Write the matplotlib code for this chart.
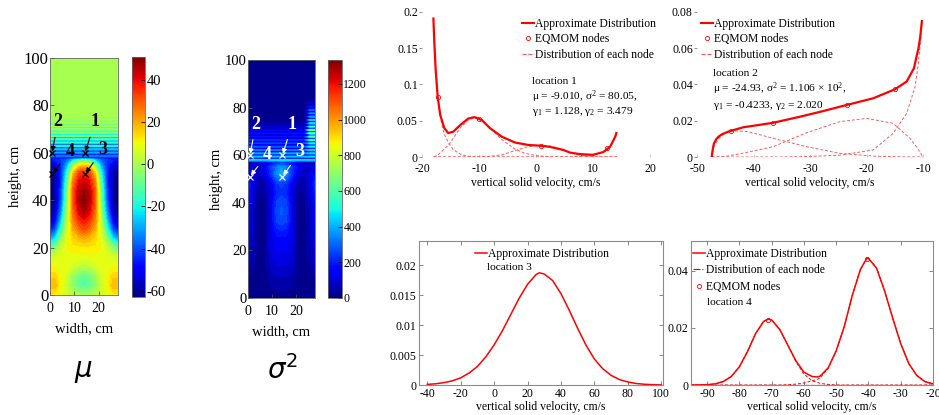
import numpy as np
import matplotlib
matplotlib.use('Agg')
import matplotlib.pyplot as plt
from matplotlib.lines import Line2D
from matplotlib.cm import ScalarMappable
from matplotlib.colors import Normalize

plt.rcParams['font.family'] = ['Liberation Serif', 'DejaVu Sans']
plt.rcParams['mathtext.fontset'] = 'custom'
plt.rcParams['mathtext.rm'] = 'Liberation Serif'
plt.rcParams['mathtext.it'] = 'Liberation Serif:italic'
plt.rcParams['mathtext.bf'] = 'Liberation Serif:bold'
plt.rcParams['axes.unicode_minus'] = False

W, H = 939, 415

# ---------------- bed fields (half width, the bed is symmetric about x = 14 cm)
half_x = [0, 2, 4.5, 7, 9.5, 12, 14]
base_h = [0, 4, 8, 12, 16, 20, 24, 28, 32, 36, 40, 44, 48, 52, 55, 57]
mu_half = [
    [12, 12, 8, 5, 2, 0, 0],
    [18, 18, 10, 4, -5, -10, -12],
    [15, 15, 10, 5, -3, -8, -10],
    [10, 10, 10, 8, 5, 3, 2],
    [5, 6, 8, 9, 9, 9, 9],
    [-10, -5, 4, 10, 12, 12, 12],
    [-30, -25, -6, 8, 15, 18, 20],
    [-48, -42, -18, 5, 20, 28, 32],
    [-56, -52, -28, 2, 25, 36, 40],
    [-60, -58, -35, -2, 28, 43, 47],
    [-62, -60, -40, -5, 30, 46, 50],
    [-62, -60, -42, -8, 30, 45, 48],
    [-62, -60, -45, -12, 25, 40, 42],
    [-60, -58, -45, -20, 15, 32, 35],
    [-56, -54, -45, -30, -5, 10, 15],
    [-48, -46, -42, -38, -25, -15, -12],
]
sig_half = [
    [10, 10, 10, 10, 15, 20, 20],
    [15, 10, 10, 15, 30, 40, 40],
    [30, 15, 10, 20, 50, 60, 60],
    [60, 30, 10, 25, 70, 90, 90],
    [90, 45, 15, 30, 90, 120, 120],
    [110, 55, 20, 30, 100, 140, 140],
    [120, 60, 20, 30, 110, 150, 150],
    [130, 65, 20, 30, 120, 190, 200],
    [140, 70, 20, 30, 130, 240, 260],
    [150, 75, 20, 30, 130, 260, 280],
    [170, 85, 25, 30, 120, 250, 270],
    [200, 100, 30, 35, 110, 210, 230],
    [220, 120, 40, 50, 130, 230, 250],
    [180, 120, 70, 110, 220, 350, 400],
    [120, 100, 90, 140, 240, 330, 370],
    [80, 80, 80, 100, 150, 200, 230],
]
# horizontal stripes above the jet region
stripe_h = np.arange(58, 82, 0.7)
mu_stripe = [-50, -35, -52, -30, -50, -25, -48, -20, -45, -15,
             -42, -10, -38, -5, -32, -2, -25, 0, -20, 1,
             -15, 1, -10, 1, -5, 1, 1, 1, 1, 1, 1, 1, 1, 1, 1]
sig_stripe_mid = [450, 60, 420, 50, 380, 40, 330, 35, 300, 30,
                  260, 25, 230, 20, 200, 20, 180, 15, 150, 15,
                  100, 10, 60, 10, 30, 10, 10, 10, 10, 10, 10, 10, 10, 10, 10]
sig_stripe_right = [450, 80, 450, 70, 450, 60, 450, 60, 500, 60,
                    500, 50, 550, 50, 600, 50, 700, 50, 650, 40,
                    550, 40, 500, 30, 450, 30, 400, 25, 350, 20,
                    300, 20, 200, 15, 100]
top_h = [84, 100]
mu_top = [1, 1]
sig_top = [10, 10]

# probe points 1-4 (width, height)
probe_lbl = ['1', '2', '3', '4']
probe_w = [14.4, 0.8, 14.4, 0.8]
probe_h = [60, 60, 51, 51]
lbl_w = [18.5, 3.3, 21.8, 8.2]
lbl_h = [73, 73, 61.5, 60.5]

# ---------------- location 1
loc1_v = [-18.0, -17.85, -17.6, -17.25, -16.8, -16.1, -15.4, -14.5, -13.3, -11.9, -10.8,
          -9.5, -8.1, -6.0, -3.7, -1.35, 0.7, 2.5, 4.8, 6.0, 7.7, 10.0, 11.8, 13.0, 13.9, 14.1]
loc1_p = [0.191, 0.160, 0.120, 0.083, 0.058, 0.040, 0.033, 0.035, 0.044, 0.053, 0.055,
          0.051, 0.040, 0.028, 0.020, 0.0166, 0.0156, 0.014, 0.0097, 0.006, 0.004, 0.003,
          0.0068, 0.014, 0.028, 0.033]
loc1_nodes = [
    ([-18.0, -17.7, -17.25, -16.7, -16.1, -15.2, -14.5, -13.3, -12.0, -10, 14.2],
     [0.191, 0.134, 0.083, 0.052, 0.031, 0.018, 0.010, 0.004, 0.001, 0, 0]),
    ([-17.9, -17.3, -16.5, -15.2, -14.5, -13.3, -11.9, -10.8, -9.5, -8.1, -6.0, -3.7, -1.9, 0, 2, 4, 14.2],
     [0, 0.002, 0.008, 0.018, 0.026, 0.040, 0.051, 0.054, 0.050, 0.040, 0.024, 0.011, 0.005, 0.002, 0.0005, 0, 0]),
    ([-18, -10, -8, -6, -4, -2, 0, 1, 2.5, 4, 6, 8, 10, 12, 14.2],
     [0, 0, 0.001, 0.003, 0.008, 0.013, 0.016, 0.0163, 0.015, 0.012, 0.006, 0.002, 0.0005, 0, 0]),
    ([-18, 6, 8, 10, 11.8, 13, 13.9, 14.1],
     [0, 0, 0.001, 0.003, 0.007, 0.015, 0.028, 0.033]),
]
loc1_node_v = [-17.25, -10.0, 0.8, 12.4]
loc1_node_p = [0.083, 0.053, 0.0156, 0.0128]

# ---------------- location 2
loc2_v = [-47.4, -47.2, -47.0, -46.6, -46.2, -45.6, -44.2, -41.8, -39, -36.5, -31.8, -27.6,
          -23.5, -18.8, -15.0, -12.9, -12.3, -11.6, -11.1, -10.8, -10.5, -10.2]
loc2_p = [0, 0.0045, 0.0075, 0.0098, 0.0112, 0.0125, 0.0143, 0.0164, 0.0177, 0.0189, 0.0222,
          0.0254, 0.0287, 0.0324, 0.0373, 0.0416, 0.045, 0.049, 0.056, 0.060, 0.066, 0.075]
loc2_nodes = [
    ([-47.4, -47.0, -46.2, -45.0, -43.6, -41, -36.5, -30.6, -24.7, -18.8, -14, -10],
     [0, 0.006, 0.010, 0.0135, 0.0145, 0.0140, 0.0103, 0.0057, 0.002, 0.0005, 0.0001, 0]),
    ([-47.4, -45, -42, -36.5, -30.6, -24.7, -20, -15.3, -12.3, -11, -10],
     [0, 0.0003, 0.002, 0.0057, 0.0134, 0.0195, 0.0213, 0.0186, 0.0103, 0.005, 0]),
    ([-47.4, -35, -30, -24.7, -18.8, -15.3, -12.9, -11.4, -10.8, -10.5, -10.2],
     [0, 0, 0.0003, 0.001, 0.0039, 0.013, 0.024, 0.0388, 0.052, 0.062, 0.074]),
]
loc2_node_v = [-44.0, -36.5, -23.5, -15.0]
loc2_node_p = [0.0143, 0.0189, 0.0287, 0.0373]

# ---------------- location 3
loc3_v = [-40, -35, -30, -25, -20, -15, -10, -5, 0, 5, 10, 15, 20, 25, 27, 30, 35, 40,
          45, 50, 55, 60, 65, 70, 75, 80, 85, 90, 95, 100]
loc3_p = [0.0001, 0.0002, 0.0004, 0.0007, 0.0012, 0.0020, 0.0031, 0.0047, 0.0067, 0.0091,
          0.0118, 0.0145, 0.0168, 0.0184, 0.0187, 0.0185, 0.0174, 0.0152, 0.0124, 0.0094,
          0.0066, 0.0043, 0.0027, 0.0016, 0.0009, 0.0005, 0.00025, 0.00012, 0.00005, 0.00002]

# ---------------- location 4
loc4_v = [-95, -90, -87.5, -85, -82.5, -80, -77.5, -75, -72.5, -71, -70, -67.5, -65, -62.5,
          -60, -57.5, -56, -55, -52.5, -50, -47.5, -45, -42.5, -40.5, -40, -37.5, -35,
          -32.5, -30, -27.5, -25, -22.5, -20]
loc4_p = [0, 0.0001, 0.0004, 0.0012, 0.0030, 0.0064, 0.0117, 0.0180, 0.0223, 0.0231, 0.0228,
          0.0195, 0.0140, 0.0085, 0.0045, 0.0030, 0.0028, 0.0031, 0.0060, 0.0120, 0.0205,
          0.0315, 0.0405, 0.0445, 0.0444, 0.0410, 0.0330, 0.0235, 0.0145, 0.0075, 0.0033,
          0.0012, 0.0004]
loc4_node1 = [0, 0.0001, 0.0004, 0.0012, 0.0030, 0.0064, 0.0117, 0.0180, 0.0223, 0.0231, 0.0228,
              0.0195, 0.0140, 0.0082, 0.0038, 0.0015, 0.0010, 0.0006, 0.0002, 0, 0,
              0, 0, 0, 0, 0, 0, 0, 0, 0, 0, 0, 0]
loc4_node2 = [0, 0, 0, 0, 0, 0, 0, 0, 0, 0, 0, 0, 0.0001, 0.0003, 0.0007, 0.0015, 0.0019, 0.0025,
              0.0058, 0.0119, 0.0205, 0.0315, 0.0405, 0.0445, 0.0444, 0.0410, 0.0330, 0.0235,
              0.0145, 0.0075, 0.0033, 0.0012, 0.0004]
loc4_node_v = [-71, -40.5]
loc4_node_p = [0.0229, 0.0443]


fig = plt.figure(figsize=(W / 100, H / 100), dpi=100)


def px_axes(x0, y0, x1, y1):
    return fig.add_axes([x0 / W, 1 - y1 / H, (x1 - x0) / W, (y1 - y0) / H])


cols = np.array(half_x + [28 - x for x in half_x[-2::-1]])
rows = np.concatenate([base_h, stripe_h, top_h])
ncol = len(cols)

mu_base = np.array(mu_half, dtype=float)
mu_base = np.hstack([mu_base, mu_base[:, -2::-1]])
mu_grid = np.vstack([mu_base,
                     np.repeat(np.array(mu_stripe, float)[:, None], ncol, axis=1),
                     np.repeat(np.array(mu_top, float)[:, None], ncol, axis=1)])

sig_base = np.array(sig_half, dtype=float)
sig_base = np.hstack([sig_base, sig_base[:, -2::-1]])
sig_str = np.repeat(np.array(sig_stripe_mid, float)[:, None], ncol, axis=1)
sig_str[:, -2:] = np.array(sig_stripe_right, float)[:, None]
sig_grid = np.vstack([sig_base, sig_str,
                      np.repeat(np.array(sig_top, float)[:, None], ncol, axis=1)])


def field_panel(box, cbox, grid, vmin, vmax, cticks, fg, ysize, csize):
    ax = px_axes(*box)
    levels = np.linspace(vmin, vmax, 40)
    ax.contourf(cols, rows, grid, levels=levels, cmap='jet', extend='both')
    ax.set_xlim(0, 28)
    ax.set_ylim(0, 100)
    ax.set_xticks([0, 10, 20])
    ax.set_yticks([0, 20, 40, 60, 80, 100])
    ax.tick_params(direction='in', length=3, width=0.6, color='0.3')
    ax.tick_params(axis='x', labelsize=10, pad=5)
    ax.tick_params(axis='y', labelsize=ysize, pad=1)
    ax.set_xlabel('width, cm', fontsize=10.5, labelpad=5)
    ax.set_ylabel('height, cm', fontsize=10.5, labelpad=1)
    for s in ax.spines.values():
        s.set_linewidth(0.6)
        s.set_color('0.4')
    ax.plot(probe_w, probe_h, 'x', color=fg, ms=4, mew=0.9, clip_on=False, zorder=5)
    for k in range(4):
        ax.annotate(probe_lbl[k], xy=(probe_w[k], probe_h[k]), xytext=(lbl_w[k], lbl_h[k]),
                    fontsize=13, fontweight='bold', color=fg, ha='center', va='center',
                    annotation_clip=False,
                    arrowprops=dict(arrowstyle='-|>', color=fg, lw=0.8, mutation_scale=7,
                                    shrinkA=3, shrinkB=1))
    cax = px_axes(*cbox)
    cb = fig.colorbar(ScalarMappable(norm=Normalize(vmin, vmax), cmap='jet'), cax=cax)
    cb.set_ticks(cticks)
    cb.ax.tick_params(direction='in', length=3, width=0.6, labelsize=csize, pad=1)
    cb.outline.set_linewidth(0.6)
    cb.outline.set_edgecolor('0.4')
    return ax


field_panel((50, 58, 118, 295), (132, 57, 145, 297), mu_grid, -63, 51,
            [-60, -40, -20, 0, 20, 40], 'k', 12, 10.5)
field_panel((248, 60, 315, 298), (328, 60, 342, 298), sig_grid, 0, 1334,
            [0, 200, 400, 600, 800, 1000, 1200], 'white', 10.5, 8.5)

fig.text(83 / W, 1 - 372 / H, r'$\mu$', fontsize=20, ha='center', va='center',
         math_fontfamily='dejavusans')
fig.text(283 / W, 1 - 370 / H, r'$\sigma^2$', fontsize=20, ha='center', va='center',
         math_fontfamily='dejavusans')

red = '#ff0000'
pink = '#ff5a5a'
h_app = Line2D([], [], color=red, lw=1.5)
h_nod = Line2D([], [], ls='none', marker='o', mfc='none', mec=red, ms=3, mew=0.6)
h_each = Line2D([], [], color=pink, ls='--', lw=0.8)
leg_kw = dict(frameon=False, fontsize=8.4, handlelength=1.0, handletextpad=0.15,
              borderpad=0, borderaxespad=0, loc='upper left',
              bbox_transform=fig.transFigure)


def top_panel(box, xlim, ylim, xticks, yticks, ylabels):
    ax = px_axes(*box)
    ax.set_xlim(*xlim)
    ax.set_ylim(*ylim)
    for s in ax.spines.values():
        s.set_visible(False)
    ax.set_xticks(xticks)
    ax.set_yticks(yticks)
    ax.set_yticklabels(ylabels)
    ax.tick_params(axis='y', direction='out', length=2, width=0.5, color='0.4', pad=1, labelsize=8.5)
    ax.tick_params(axis='x', direction='in', length=2, width=0.5, color='0.7', pad=4, labelsize=8.5)
    ax.set_xlabel('vertical solid velocity, cm/s', fontsize=8.5, labelpad=2)
    return ax


def bottom_panel(box, xlim, ylim, xticks, yticks, ylabels):
    ax = px_axes(*box)
    ax.set_xlim(*xlim)
    ax.set_ylim(*ylim)
    for s in ax.spines.values():
        s.set_color('0.55')
        s.set_linewidth(0.8)
    ax.set_xticks(xticks)
    ax.set_yticks(yticks)
    ax.set_yticklabels(ylabels)
    ax.tick_params(direction='in', top=True, right=True, length=3, width=0.6, color='0.45',
                   labelsize=8.5, pad=2)
    ax.set_xlabel('vertical solid velocity, cm/s', fontsize=8.5, labelpad=1)
    return ax


# location 1
ax = top_panel((422, 12, 650, 157), (-20, 20), (0, 0.2), [-20, -10, 0, 10, 20],
               [0, 0.05, 0.1, 0.15, 0.2], ['0', '0.05', '0.1', '0.15', '0.2'])
for nv, npp in loc1_nodes:
    ax.plot(nv, npp, '--', color=pink, lw=0.7, dashes=(3, 2))
ax.plot(loc1_v, loc1_p, color=red, lw=1.6)
ax.plot(loc1_node_v, loc1_node_p, 'o', mfc='none', mec=red, ms=3, mew=0.6)
ax.legend([h_app, h_nod, h_each], ['Approximate Distribution', 'EQMOM nodes',
          'Distribution of each node'], bbox_to_anchor=(522 / W, 1 - 18 / H),
          labelspacing=0.3, **leg_kw)
fig.text(532 / W, 1 - 81 / H, 'location 1', fontsize=8.2, va='center')
fig.text(532 / W, 1 - 97 / H, r'$\mathrm{\mu}$ = -9.010, $\mathrm{\sigma}^2$ = 80.05,',
         fontsize=8.2, va='center')
fig.text(532 / W, 1 - 111 / H, r'$\mathrm{\gamma}_1$ = 1.128, $\mathrm{\gamma}_2$ = 3.479',
         fontsize=8.2, va='center')

# location 2
ax = top_panel((697, 12, 923, 157), (-50, -10), (0, 0.08), [-50, -40, -30, -20, -10],
               [0, 0.02, 0.04, 0.06, 0.08], ['0', '0.02', '0.04', '0.06', '0.08'])
for nv, npp in loc2_nodes:
    ax.plot(nv, npp, '--', color=pink, lw=0.7, dashes=(3, 2))
ax.plot(loc2_v, loc2_p, color=red, lw=1.6)
ax.plot(loc2_node_v, loc2_node_p, 'o', mfc='none', mec=red, ms=3, mew=0.6)
ax.legend([h_app, h_nod, h_each], ['Approximate Distribution', 'EQMOM nodes',
          'Distribution of each node'], bbox_to_anchor=(701 / W, 1 - 18 / H),
          labelspacing=0.3, **leg_kw)
fig.text(713 / W, 1 - 73 / H, 'location 2', fontsize=8.2, va='center')
fig.text(713 / W, 1 - 89 / H,
         r'$\mathrm{\mu}$ = -24.93, $\mathrm{\sigma}^2$ = 1.106 $\times$ 10$^2$,',
         fontsize=8.2, va='center')
fig.text(713 / W, 1 - 105 / H, r'$\mathrm{\gamma}_1$ = -0.4233, $\mathrm{\gamma}_2$ = 2.020',
         fontsize=8.2, va='center')

# location 3
ax = bottom_panel((419, 241, 663, 385), (-45, 101), (0, 0.024), list(range(-40, 101, 20)),
                  [0, 0.005, 0.01, 0.015, 0.02], ['0', '0.005', '0.01', '0.015', '0.02'])
ax.plot(loc3_v, loc3_p, color=red, lw=1.1)
ax.legend([Line2D([], [], color=red, lw=1.1)], ['Approximate Distribution'],
          bbox_to_anchor=(475 / W, 1 - 248 / H), **leg_kw)
fig.text(487 / W, 1 - 268 / H, 'location 3', fontsize=8.2, va='center')

# location 4
ax = bottom_panel((691, 241, 933, 385), (-95, -20), (0, 0.0505), list(range(-90, -19, 10)),
                  [0, 0.02, 0.04], ['0', '0.02', '0.04'])
ax.axhline(0, color='#8b1010', ls='--', lw=0.9)
ax.plot(loc4_v, loc4_node1, '--', color=red, lw=0.7, dashes=(3, 2))
ax.plot(loc4_v, loc4_node2, '--', color=red, lw=0.7, dashes=(3, 2))
ax.plot(loc4_v, loc4_p, color=red, lw=1.1)
ax.plot(loc4_node_v, loc4_node_p, 'o', mfc='none', mec=red, ms=3, mew=0.6)
ax.legend([Line2D([], [], color=red, lw=1.1), Line2D([], [], color=red, ls='-.', lw=0.8), h_nod],
          ['Approximate Distribution', 'Distribution of each node', 'EQMOM nodes'],
          bbox_to_anchor=(693 / W, 1 - 248 / H), labelspacing=0.38, **leg_kw)
fig.text(707 / W, 1 - 302 / H, 'location 4', fontsize=8.2, va='center')

fig.savefig('out.png', dpi=100)
